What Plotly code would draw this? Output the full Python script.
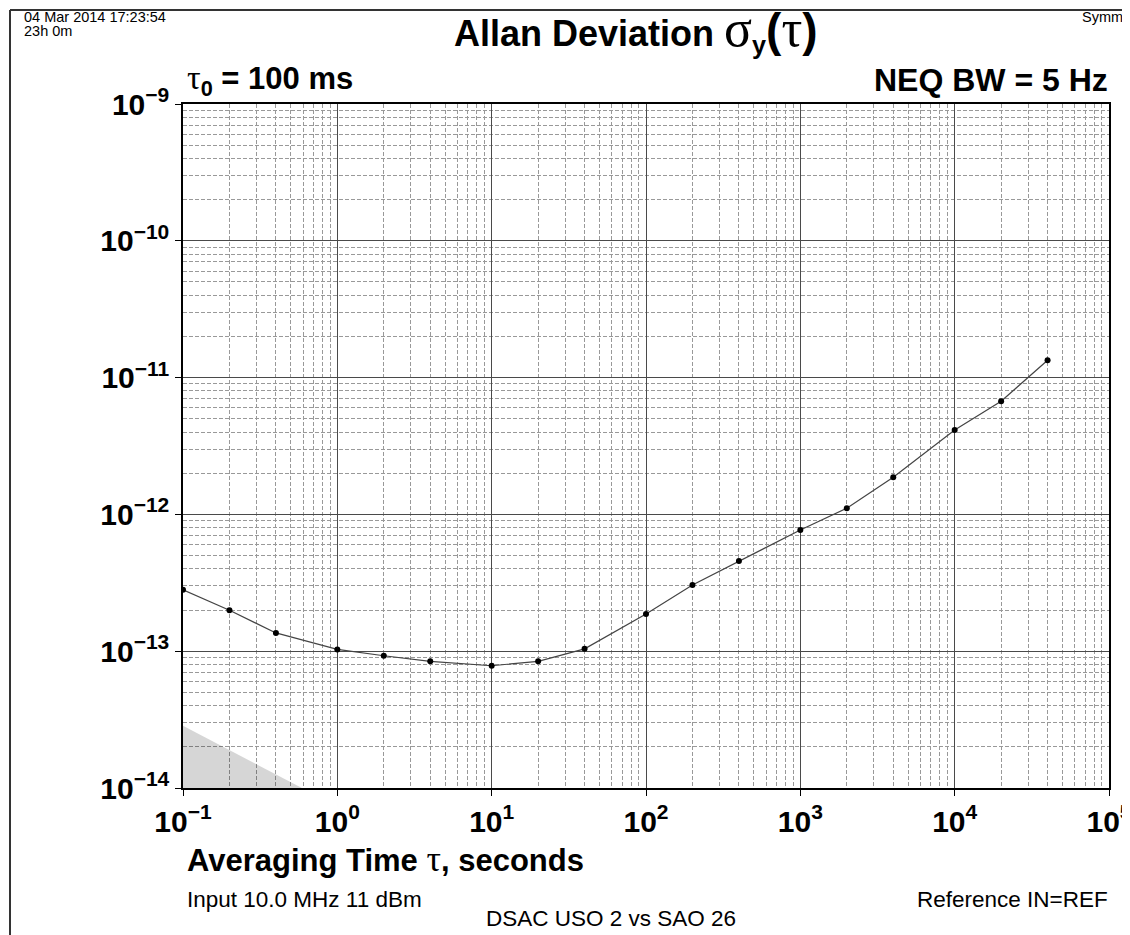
import plotly.graph_objects as go

# ---- data ----
tau = [0.1, 0.2, 0.4, 1, 2, 4, 10, 20, 40, 100, 200, 400, 1000, 2000, 4000, 10000, 20000, 40000]
adev = [2.81e-13, 1.99e-13, 1.36e-13, 1.03e-13, 9.26e-14, 8.43e-14, 7.83e-14, 8.43e-14, 1.04e-13,
        1.87e-13, 3.05e-13, 4.57e-13, 7.7e-13, 1.11e-12, 1.87e-12, 4.14e-12, 6.71e-12, 1.34e-11]
floor_tau = [0.1, 0.59, 0.1]
floor_adev = [2.85e-14, 1.0e-14, 1.0e-14]
x_tick_vals = [1e-1, 1e0, 1e1, 1e2, 1e3, 1e4, 1e5]
x_tick_text = ["10<sup>\u22121</sup>", "10<sup>0</sup>", "10<sup>1</sup>", "10<sup>2</sup>",
               "10<sup>3</sup>", "10<sup>4</sup>", "10<sup>5</sup>"]
y_tick_vals = [1e-14, 1e-13, 1e-12, 1e-11, 1e-10, 1e-9]
y_tick_text = ["10<sup>\u221214</sup>", "10<sup>\u221213</sup>", "10<sup>\u221212</sup>",
               "10<sup>\u221211</sup>", "10<sup>\u221210</sup>", "10<sup>\u22129</sup>"]

OFF = 8  # page body margin
W, H = 1130 - OFF, 935 - OFF
L, T = 183 - OFF, 104 - OFF
R = W - (1109 - OFF)
B = H - (788 - OFF)
PW, PH = W - L - R, H - T - B

def px(X):
    return (X - OFF - L) / PW

def py(Y):
    return (H - B - (Y - OFF)) / PH

minor_x = [m * 10 ** e for e in range(-1, 5) for m in range(2, 10)]
minor_y = [m * 10.0 ** e for e in range(-14, -9) for m in range(2, 10)]

SANS = "Liberation Sans, Arial, sans-serif"
SERIF = "Liberation Serif, Times New Roman, serif"

fig = go.Figure()
fig.add_trace(go.Scatter(x=floor_tau, y=floor_adev, fill="toself", mode="lines",
                         line=dict(width=0), fillcolor="rgba(0,0,0,0.16)",
                         hoverinfo="skip", showlegend=False))
fig.add_trace(go.Scatter(x=tau, y=adev, mode="lines+markers",
                         line=dict(color="#444444", width=1.2),
                         marker=dict(color="black", size=6),
                         showlegend=False))

axis_common = dict(
    type="log", showline=True, linecolor="black", linewidth=1.5, mirror=True,
    ticks="outside", ticklen=6, tickcolor="black", tickwidth=1,
    showgrid=True, gridcolor="#4a4a4a", gridwidth=1, zeroline=False,
    tickfont=dict(family=SANS, size=30, color="black", weight="bold"),
    tickmode="array", ticklabeloverflow="allow",
)
fig.update_xaxes(**axis_common, range=[-1, 5], tickvals=x_tick_vals, ticktext=x_tick_text,
                 minor=dict(tickmode="array", tickvals=minor_x, showgrid=True,
                            gridcolor="#999999", griddash="4px,2px", gridwidth=1, ticklen=0))
fig.update_yaxes(**axis_common, range=[-14, -9], tickvals=y_tick_vals, ticktext=y_tick_text,
                 minor=dict(tickmode="array", tickvals=minor_y, showgrid=True,
                            gridcolor="#999999", griddash="4px,2px", gridwidth=1, ticklen=0))

def ann(text, X, Y, size, xanchor="left", bold=False, yanchor="middle"):
    fig.add_annotation(text=text, x=px(X), y=py(Y), xref="paper", yref="paper",
                       xanchor=xanchor, yanchor=yanchor, showarrow=False,
                       font=dict(family=SANS, size=size, color="black",
                                 weight="bold" if bold else "normal"))

def greek(ch, size=None, weight=None):
    style = f"font-family:{SERIF}"
    if size:
        style += f";font-size:{size}px"
    if weight:
        style += f";font-weight:{weight}"
    return f"<span style='{style}'>{ch}</span>"

sigma, tau_ch = chr(0x3c3), chr(0x3c4)
ann(f"Allan Deviation {greek(sigma, 52, 'normal')}<sub>y</sub>"
    f"<span style='font-size:46px'>(</span>{greek(tau_ch, 52, 'normal')}"
    f"<span style='font-size:46px'>)</span>",
    452, 29, 36, bold=True)
ann(f"{greek(tau_ch, 34, 'normal')}<sub>0</sub> = 100 ms", 185, 80, 31, bold=True)
ann("NEQ BW = 5 Hz", 1110, 80, 32, xanchor="right", bold=True)
ann(f"Averaging Time {greek(tau_ch, 36, 'normal')}, seconds", 185, 859, 31, bold=True)
ann("Input 10.0 MHz 11 dBm", 185, 899, 22.5)
ann("Reference IN=REF", 1110, 899, 22.5, xanchor="right")
ann("DSAC USO 2 vs SAO 26", 611, 918, 22.5, xanchor="center")
ann("04 Mar 2014 17:23:54", 22, 17, 14.5)
ann("23h 0m", 22, 31, 14.5)
ann("Symmetricom", 1080, 17, 14.5)

# page frame
fig.add_shape(type="line", xref="paper", yref="paper", x0=px(10), x1=px(10), y0=py(10), y1=py(935),
              line=dict(color="#333333", width=2))
fig.add_shape(type="line", xref="paper", yref="paper", x0=px(10), x1=px(1130), y0=py(10), y1=py(10),
              line=dict(color="#333333", width=2))

fig.update_layout(width=W, height=H, margin=dict(l=L, r=R, t=T, b=B, autoexpand=False),
                  paper_bgcolor="white", plot_bgcolor="white", showlegend=False,
                  font=dict(family=SANS, color="black"))

fig.write_html("out.html")
